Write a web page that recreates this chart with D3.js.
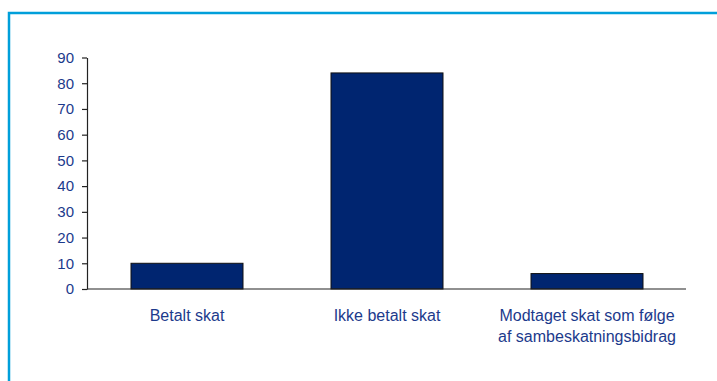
<!DOCTYPE html>
<html>
<head>
<meta charset="utf-8">
<script src="https://cdn.jsdelivr.net/npm/d3@7"></script>
<style>
  html, body { margin: 0; padding: 0; background: #fff; }
  svg { display: block; }
  text { font-family: Arial, "Liberation Sans", sans-serif; }
</style>
</head>
<body>
<svg id="chart" width="717" height="381"></svg>
<script>
// Share of companies by tax status (%)
const categories = ["Betalt skat", "Ikke betalt skat", "Modtaget skat som følge af sambeskatningsbidrag"];
const categoryLines = [["Betalt skat"], ["Ikke betalt skat"], ["Modtaget skat som følge", "af sambeskatningsbidrag"]];
const values = [10, 84, 6];
const yTicks = [0, 10, 20, 30, 40, 50, 60, 70, 80, 90];

const svg = d3.select("#chart");
const textColor = "#1c3a8c";

// Frame around the chart area
svg.append("path")
  .attr("d", "M9,381 L9,13 L717,13")
  .attr("fill", "none")
  .attr("stroke", "#009fda")
  .attr("stroke-width", 2.5);

const x = d3.scaleBand().domain(categories).range([87, 687]).paddingInner(0.44).paddingOuter(0.22);
const y = d3.scaleLinear().domain([0, 90]).range([289, 57.5]);

// Bars
svg.append("g").selectAll("rect")
  .data(categories)
  .join("rect")
  .attr("x", d => x(d))
  .attr("width", x.bandwidth())
  .attr("y", (d, i) => y(values[i]))
  .attr("height", (d, i) => y(0) - y(values[i]))
  .attr("fill", "#002570")
  .attr("stroke", "#111")
  .attr("stroke-width", 1);

// Y axis
const yAxis = svg.append("g")
  .attr("transform", "translate(87,0)")
  .call(d3.axisLeft(y).tickValues(yTicks).tickSize(5).tickPadding(8).tickSizeOuter(0));
yAxis.select(".domain").attr("stroke", "#222").attr("stroke-width", 1.2);
yAxis.selectAll(".tick line").attr("stroke", "#222").attr("stroke-width", 1.2);
yAxis.selectAll(".tick text").attr("fill", textColor).attr("font-size", 15);

// X baseline
svg.append("line")
  .attr("x1", 87).attr("x2", 686)
  .attr("y1", y(0)).attr("y2", y(0))
  .attr("stroke", "#222").attr("stroke-width", 1.2);

// Category labels
const labels = svg.append("g").selectAll("text")
  .data(categories)
  .join("text")
  .attr("text-anchor", "middle")
  .attr("fill", textColor)
  .attr("font-size", 16)
  .attr("transform", d => `translate(${x(d) + x.bandwidth() / 2},321)`);
labels.selectAll("tspan")
  .data((d, i) => categoryLines[i])
  .join("tspan")
  .attr("x", 0)
  .attr("dy", (d, j) => j === 0 ? 0 : 20.5)
  .text(d => d);
</script>
</body>
</html>
